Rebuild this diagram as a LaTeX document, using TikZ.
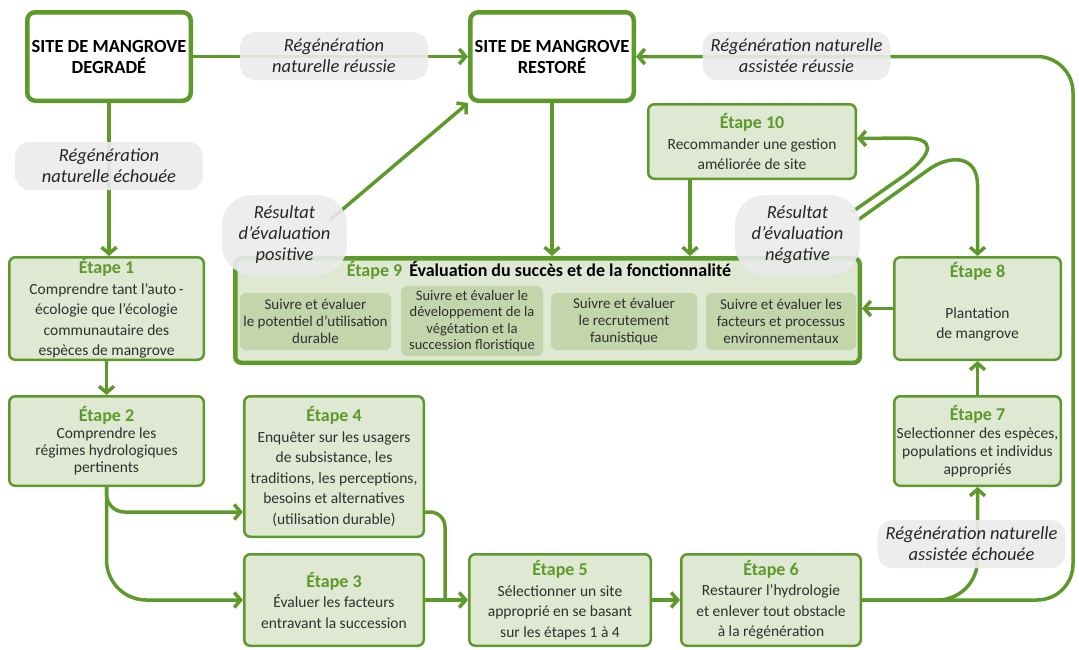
\documentclass[tikz,border=0pt]{standalone}
\usepackage{fontspec}
\setmainfont{Carlito}
\usetikzlibrary{arrows.meta}

\definecolor{vertfonce}{HTML}{5E9A2B}
\definecolor{vertclair}{HTML}{DFE8D2}
\definecolor{vertmoyen}{HTML}{C2D5AB}
\definecolor{grisclair}{HTML}{EBEBEB}
\definecolor{textegris}{HTML}{303030}

\newcommand{\etape}[1]{{\color{vertfonce}\bfseries\fontsize{18}{20.5}\selectfont Étape #1}\\}

\begin{document}
\begin{tikzpicture}[x=1pt,y=-1pt,>={Straight Barb[length=6.5pt,width=15pt]},
                    fleche/.style={->,draw=vertfonce,line width=3.5pt},
                    lien/.style={draw=vertfonce,line width=3.5pt},
                    site/.style={draw=vertfonce,line width=4.5pt,fill=white,rounded corners=8pt,
                                 minimum width=163.5pt,minimum height=88.5pt,align=center,
                                 font=\bfseries\fontsize{18.5}{21}\selectfont},
                    etapebox/.style={draw=vertfonce,line width=2.5pt,fill=vertclair,rounded corners=6pt,
                                 align=center,text=textegris,inner sep=0pt,
                                 font=\fontsize{15.5}{20.5}\selectfont},
                    sousetape/.style={fill=vertmoyen,rounded corners=6pt,align=center,inner sep=0pt,
                                 text=textegris,font=\fontsize{15}{17}\selectfont},
                    pilule/.style={fill=grisclair,fill opacity=0.9,text opacity=1,rounded corners=15pt,
                                 minimum width=188pt,minimum height=48pt,inner sep=0pt,align=center,
                                 text=black!85,font=\itshape\fontsize{18.5}{21}\selectfont},
                    resultat/.style={pilule,rounded corners=30pt,minimum width=125pt,minimum height=80pt}]

	\useasboundingbox (0,0) rectangle (1079,649);

	\node[site] (degrade) at (109,56.5)  {SITE DE MANGROVE\\DEGRADÉ};
	\node[site] (restore) at (552,56.5)  {SITE DE MANGROVE\\RESTORÉ};

	\node[etapebox,minimum width=194.5pt,minimum height=102.5pt] (etape1) at (106.5,308.5)
		{\etape{1}Comprendre tant l'auto\,-\\écologie que l'écologie\\communautaire des\\espèces de mangrove};
	\node[etapebox,minimum width=194.5pt,minimum height=89.5pt,font=\fontsize{15.5}{17}\selectfont] (etape2) at (106.5,441)
		{\etape{2}Comprendre les\\régimes hydrologiques\\pertinents};
	\node[etapebox,minimum width=179.5pt,minimum height=140.5pt] (etape4) at (334,466.5)
		{\etape{4}Enquêter sur les usagers\\de subsistance, les\\traditions, les perceptions,\\besoins et alternatives\\(utilisation durable)};
	\node[etapebox,minimum width=179.5pt,minimum height=91.5pt] (etape3) at (334,600)
		{\etape{3}Évaluer les facteurs\\entravant la succession};
	\node[etapebox,minimum width=181.5pt,minimum height=91.5pt] (etape5) at (560,600)
		{\etape{5}Sélectionner un site\\approprié en se basant\\sur les étapes 1 à 4};
	\node[etapebox,minimum width=179.5pt,minimum height=91.5pt] (etape6) at (771,600)
		{\etape{6}Restaurer l'hydrologie\\et enlever tout obstacle\\à la régénération};
	\node[etapebox,minimum width=166.5pt,minimum height=89.5pt,font=\fontsize{15.5}{18}\selectfont] (etape7) at (977.5,441)
		{\etape{7}Selectionner des espèces,\\populations et individus\\appropriés};
	\node[etapebox,minimum width=166.5pt,minimum height=102.5pt] (etape8) at (977.5,308.5)
		{\etape{8}\mbox{}\\Plantation\\de mangrove\\[-4pt]\mbox{}};
	\node[etapebox,minimum width=207.5pt,minimum height=74.5pt] (etape10) at (752,141.5)
		{\etape{10}Recommander une gestion\\améliorée de site};

	\node[etapebox,line width=4.5pt,minimum width=624.5pt,minimum height=104.5pt] (etape9) at (547.5,310.5) {};
	\node[font=\bfseries\fontsize{18}{20}\selectfont,inner sep=0pt] (titre9) at (539,270)
		{{\color{vertfonce}Étape 9}\hspace{7pt}Évaluation du succès et de la fonctionnalité};
	\node[sousetape,minimum width=151pt,minimum height=57pt] (suivi1) at (315.5,321.5)
		{Suivre et évaluer\\le potentiel d'utilisation\\durable};
	\node[sousetape,minimum width=142pt,minimum height=70pt,font=\fontsize{14.5}{16.5}\selectfont] (suivi2) at (472,321)
		{Suivre et évaluer le\\développement de la\\végétation et la\\succession floristique};
	\node[sousetape,minimum width=146pt,minimum height=57pt] (suivi3) at (624,321.5)
		{Suivre et évaluer\\le recrutement\\faunistique};
	\node[sousetape,minimum width=150pt,minimum height=57pt] (suivi4) at (781,321.5)
		{Suivre et évaluer les\\facteurs et processus\\environnementaux};

	\coordinate (posdepart)  at (330,220);
	\coordinate (negdepart1) at (852,212);
	\coordinate (negdepart2) at (858,220);
	\coordinate (jonction)   at ([xshift=-23pt]etape5.west);

	\draw[fleche] (degrade) -- (restore);
	\draw[fleche] (degrade.south) -- (degrade.south |- etape1.north);
	\draw[fleche] (restore.south) -- (restore.south |- etape9.north);
	\draw[fleche] (posdepart) -- (restore.south west);
	\draw[fleche,rounded corners=36pt] (etape6.east) -- (1073,600) -- (1073,56.5) -- (restore.east);
	\draw[fleche,rounded corners=40pt] (etape6.east) -- (etape7.south |- etape6.east) -- (etape7.south);
	\draw[fleche] (etape7) -- (etape8);
	\draw[fleche] (etape8.west) -- (etape9.east |- etape8.west);
	\draw[fleche] ([xshift=-62pt]etape10.south) -- ([xshift=-62pt]etape10.south |- etape9.north);
	\draw[fleche] (negdepart1) -- (905,175) .. controls (935,152) and (935,138) .. (905,138) -- ([yshift=3pt]etape10.east);
	\draw[fleche] (negdepart2) -- (928,170) .. controls (950,154) and (977.5,155) .. (977.5,185) -- (etape8.north);
	\draw[fleche] (etape1) -- (etape2);
	\draw[fleche,rounded corners=18pt] (etape2.south) -- (etape2.south |- 0,512) -- ([yshift=-45.5pt]etape4.west);
	\draw[fleche,rounded corners=40pt] (etape2.south) -- (etape2.south |- etape3.west) -- (etape3.west);
	\draw[lien,rounded corners=15pt] ([yshift=-45.5pt]etape4.east) -| (jonction);
	\draw[fleche] (etape3) -- (etape5);
	\draw[fleche] (etape5) -- (etape6);

	\node[pilule] (reussie)        at (334,56)    {Régénération\\naturelle réussie};
	\node[pilule] (assisteereussie) at (796.5,56) {Régénération naturelle\\assistée réussie};
	\node[pilule] (echouee)        at (109,166)   {Régénération\\naturelle échouée};
	\node[pilule] (assisteeechouee) at (971.5,544) {Régénération naturelle\\assistée échouée};
	\node[resultat] (positif) at (284.5,235) {Résultat\\d'évaluation\\positive};
	\node[resultat] (negatif) at (797.5,235) {Résultat\\d'évaluation\\négative};

\end{tikzpicture}
\end{document}
